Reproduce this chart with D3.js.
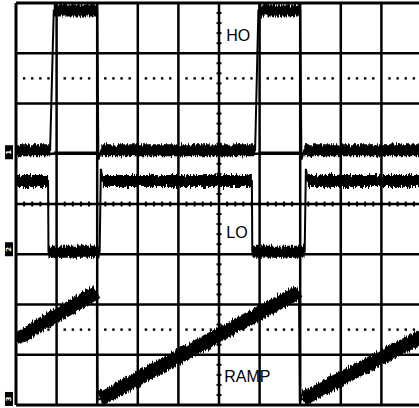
<!DOCTYPE html>
<html>
<head>
<meta charset="utf-8">
<script src="https://cdn.jsdelivr.net/npm/d3@7"></script>
<style>
  html, body { margin: 0; padding: 0; background: #fff; overflow: hidden; }
</style>
</head>
<body>
<div class="scope"></div>
<script>
// all values in screen divisions: time 0..10 across, level 0..8 from the bottom
const channels = ['HO', 'LO', 'RAMP'];
const groundLevels = [5.03, 3.1, 0.12];

const hoTrace = [
  [0, 5.07], [0.84, 5.07], [0.93, 7.85], [2.0, 7.85], [2.03, 4.88], [2.1, 5.07],
  [5.89, 5.07], [5.97, 7.85], [7.0, 7.85], [7.03, 4.88], [7.1, 5.07], [10, 5.07],
];
const hoGroundRuns = [[0.93, 2.0], [5.97, 7.0]];
const loTrace = [
  [0, 4.46], [0.79, 4.46], [0.8, 3.05], [2.06, 3.05], [2.09, 4.7], [2.14, 4.46],
  [5.81, 4.46], [5.82, 3.05], [7.11, 3.05], [7.14, 4.7], [7.19, 4.46], [10, 4.46],
];
const rampTrace = [
  [0, 1.31], [1.99, 2.25], [2.01, 0.1], [2.07, 0.12], [6.97, 2.25],
  [6.99, 0.1], [7.06, 0.12], [10, 1.37],
];

const width = 419;
const height = 408;
const screenLeft = 16;
const screenTop = 3;
const divW = 40.6;
const divH = 50.25;

const x = d3.scaleLinear().domain([0, 10]).range([screenLeft, screenLeft + 10 * divW]);
const y = d3.scaleLinear().domain([0, 8]).range([screenTop + 8 * divH, screenTop]);

const svg = d3
  .select('div.scope')
  .append('svg')
  .attr('width', width)
  .attr('height', height)
  .style('display', 'block');

const defs = svg.append('defs');

defs
  .append('clipPath')
  .attr('id', 'screen')
  .append('rect')
  .attr('x', x(0))
  .attr('y', y(8))
  .attr('width', x(10) - x(0))
  .attr('height', y(0) - y(8));

// jagged edges on the noisy parts of the traces (vertical jitter only)
const noise = defs
  .append('filter')
  .attr('id', 'noise')
  .attr('filterUnits', 'userSpaceOnUse')
  .attr('x', 0)
  .attr('y', 0)
  .attr('width', width)
  .attr('height', height);
noise
  .append('feTurbulence')
  .attr('type', 'fractalNoise')
  .attr('baseFrequency', '0.8 0.05')
  .attr('numOctaves', 2)
  .attr('seed', 3)
  .attr('result', 'turb');
noise
  .append('feColorMatrix')
  .attr('in', 'turb')
  .attr('type', 'matrix')
  .attr('values', '0 0 0 0 0.5  0 1 0 0 0  0 0 0 0 0  0 0 0 0 1')
  .attr('result', 'map');
noise
  .append('feDisplacementMap')
  .attr('in', 'SourceGraphic')
  .attr('in2', 'map')
  .attr('scale', 8)
  .attr('xChannelSelector', 'R')
  .attr('yChannelSelector', 'G');

// graticule
const grid = svg.append('g').attr('class', 'graticule');

d3.range(0, 11).forEach((t) => {
  grid
    .append('line')
    .attr('x1', x(t))
    .attr('x2', x(t))
    .attr('y1', y(8))
    .attr('y2', y(0))
    .attr('stroke', '#000')
    .attr('stroke-width', t === 0 ? 3 : 2.5);
});

d3.range(0, 9).forEach((v) => {
  grid
    .append('line')
    .attr('x1', x(0))
    .attr('x2', x(10) + 2)
    .attr('y1', y(v))
    .attr('y2', y(v))
    .attr('stroke', '#000')
    .attr('stroke-width', v === 8 || v === 0 ? 3 : 2.5);
});

// minor ticks on the centre axes
d3.range(0, 10.01, 0.2).forEach((t) => {
  grid
    .append('rect')
    .attr('x', x(t) - 1)
    .attr('y', y(4) - 2.5)
    .attr('width', 2)
    .attr('height', 5)
    .attr('fill', '#000');
});
d3.range(0, 8.01, 0.2).forEach((v) => {
  grid
    .append('rect')
    .attr('x', x(5) - 2.5)
    .attr('y', y(v) - 1)
    .attr('width', 5)
    .attr('height', 2)
    .attr('fill', '#000');
});

// dotted reference rows
[6.5, 1.5].forEach((v) => {
  d3.range(0, 10).forEach((t) => {
    [0.2, 0.4, 0.6, 0.8].forEach((f) => {
      grid
        .append('rect')
        .attr('x', x(t + f) - 1.2)
        .attr('y', y(v) - 1.2)
        .attr('width', 2.4)
        .attr('height', 2.4)
        .attr('fill', '#000');
    });
  });
});

// traces
const line = d3
  .line()
  .x((d) => x(d[0]))
  .y((d) => y(d[1]));

const traces = svg.append('g').attr('clip-path', 'url(#screen)');

const drawTrace = (data, band) => {
  // thin edges through every point
  traces
    .append('path')
    .datum(data)
    .attr('d', line)
    .attr('fill', 'none')
    .attr('stroke', '#000')
    .attr('stroke-width', 2);

  // thick noisy band on the slow parts
  const runs = d3.pairs(data).filter((p) => p[1][0] - p[0][0] > 0.15);
  const bandGroup = traces.append('g').attr('filter', 'url(#noise)');
  bandGroup
    .selectAll('path.band')
    .data(runs)
    .enter()
    .append('path')
    .attr('class', 'band')
    .attr('d', line)
    .attr('fill', 'none')
    .attr('stroke', '#000')
    .attr('stroke-width', band);
};

drawTrace(hoTrace, 12);
drawTrace(loTrace, 12);
drawTrace(rampTrace, 14);

hoGroundRuns.forEach((r) => {
  traces
    .append('line')
    .attr('x1', x(r[0]))
    .attr('x2', x(r[1]))
    .attr('y1', y(groundLevels[0]))
    .attr('y2', y(groundLevels[0]))
    .attr('stroke', '#000')
    .attr('stroke-width', 1.6);
});

// channel ground markers at the left edge
groundLevels.forEach((v, i) => {
  const g = svg
    .append('g')
    .attr('transform', `translate(${x(0) - 11},${y(v)})`);
  g.append('rect')
    .attr('x', 0)
    .attr('y', -7)
    .attr('width', 8)
    .attr('height', 14)
    .attr('fill', '#000');
  g.append('text')
    .attr('transform', 'rotate(-90)')
    .attr('x', 0)
    .attr('y', 6)
    .attr('text-anchor', 'middle')
    .attr('font-family', 'DejaVu Sans, sans-serif')
    .attr('font-size', 7)
    .attr('font-weight', 'bold')
    .attr('fill', '#fff')
    .text(i + 1);
});

// channel names
const labelAnchors = [[5.18, 7.24], [5.18, 3.33], [5.13, 0.46]];
channels.forEach((name, i) => {
  svg
    .append('text')
    .attr('x', x(labelAnchors[i][0]))
    .attr('y', y(labelAnchors[i][1]))
    .attr('font-family', 'Liberation Sans, Arial, sans-serif')
    .attr('font-size', 16)
    .attr('fill', '#000')
    .text(name);
});
</script>
</body>
</html>
